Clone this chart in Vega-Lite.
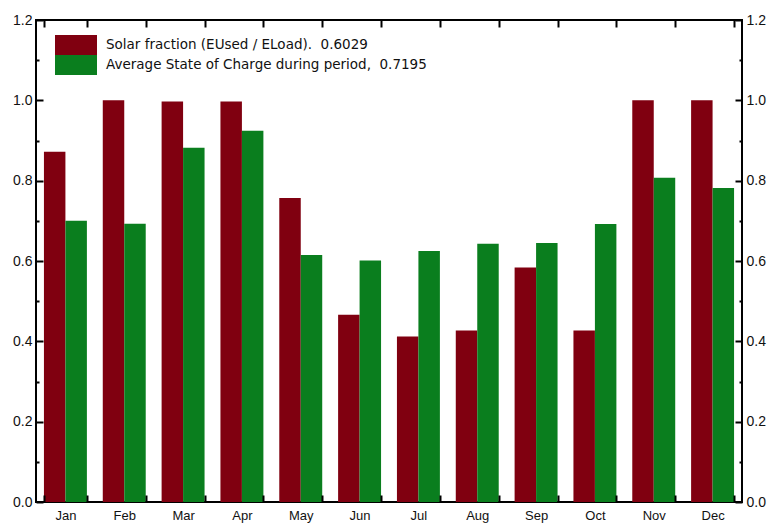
{
  "$schema": "https://vega.github.io/schema/vega-lite/v6.json",
  "width": 706,
  "height": 482,
  "autosize": {"type": "none"},
  "padding": {"left": 36, "top": 20, "right": 31, "bottom": 25},
  "background": "white",
  "config": {
    "view": {"stroke": "black", "strokeWidth": 2},
    "font": "Liberation Sans",
    "axis": {"labelColor": "#111", "grid": false, "title": null}
  },
  "data": {
    "values": [
      {"month": "Jan", "series": "Solar fraction (EUsed / ELoad).\u00a0 0.6029", "value": 0.872},
      {"month": "Feb", "series": "Solar fraction (EUsed / ELoad).\u00a0 0.6029", "value": 1.0},
      {"month": "Mar", "series": "Solar fraction (EUsed / ELoad).\u00a0 0.6029", "value": 0.997},
      {"month": "Apr", "series": "Solar fraction (EUsed / ELoad).\u00a0 0.6029", "value": 0.997},
      {"month": "May", "series": "Solar fraction (EUsed / ELoad).\u00a0 0.6029", "value": 0.757},
      {"month": "Jun", "series": "Solar fraction (EUsed / ELoad).\u00a0 0.6029", "value": 0.466},
      {"month": "Jul", "series": "Solar fraction (EUsed / ELoad).\u00a0 0.6029", "value": 0.412},
      {"month": "Aug", "series": "Solar fraction (EUsed / ELoad).\u00a0 0.6029", "value": 0.427},
      {"month": "Sep", "series": "Solar fraction (EUsed / ELoad).\u00a0 0.6029", "value": 0.584},
      {"month": "Oct", "series": "Solar fraction (EUsed / ELoad).\u00a0 0.6029", "value": 0.427},
      {"month": "Nov", "series": "Solar fraction (EUsed / ELoad).\u00a0 0.6029", "value": 1.0},
      {"month": "Dec", "series": "Solar fraction (EUsed / ELoad).\u00a0 0.6029", "value": 1.0},
      {"month": "Jan", "series": "Average State of Charge during period,\u00a0 0.7195", "value": 0.70},
      {"month": "Feb", "series": "Average State of Charge during period,\u00a0 0.7195", "value": 0.693},
      {"month": "Mar", "series": "Average State of Charge during period,\u00a0 0.7195", "value": 0.882},
      {"month": "Apr", "series": "Average State of Charge during period,\u00a0 0.7195", "value": 0.924},
      {"month": "May", "series": "Average State of Charge during period,\u00a0 0.7195", "value": 0.615},
      {"month": "Jun", "series": "Average State of Charge during period,\u00a0 0.7195", "value": 0.601},
      {"month": "Jul", "series": "Average State of Charge during period,\u00a0 0.7195", "value": 0.625},
      {"month": "Aug", "series": "Average State of Charge during period,\u00a0 0.7195", "value": 0.643},
      {"month": "Sep", "series": "Average State of Charge during period,\u00a0 0.7195", "value": 0.645},
      {"month": "Oct", "series": "Average State of Charge during period,\u00a0 0.7195", "value": 0.692},
      {"month": "Nov", "series": "Average State of Charge during period,\u00a0 0.7195", "value": 0.807},
      {"month": "Dec", "series": "Average State of Charge during period,\u00a0 0.7195", "value": 0.782}
    ]
  },
  "layer": [
    {
      "mark": {"type": "bar", "opacity": 0},
      "encoding": {
        "x": {
          "field": "month", "type": "nominal",
          "sort": ["Jan","Feb","Mar","Apr","May","Jun","Jul","Aug","Sep","Oct","Nov","Dec"],
          "scale": {"paddingInner": 0.27, "paddingOuter": 0.135},
          "axis": {"orient": "top", "labels": false, "tickBand": "extent", "domain": false, "ticks": true, "tickSize": 7, "tickColor": "black", "tickWidth": 2, "offset": -7, "zindex": 1}
        },
        "y": {
          "field": "value", "type": "quantitative",
          "scale": {"domain": [0, 1.2], "nice": false, "zero": true},
          "axis": {
            "orient": "right",
            "values": [0,0.1,0.2,0.3,0.4,0.5,0.6,0.7,0.8,0.9,1.0,1.1,1.2],
            "labelExpr": "round(datum.value*10)%2==1 ? '' : format(datum.value,'.1f')",
            "domain": false, "ticks": true, "tickSize": 7, "tickColor": "black", "tickWidth": 2, "offset": -7, "zindex": 1,
            "tickDash": {"condition": {"test": "round(datum.value*10)%2==1", "value": [0, 4, 3, 20]}, "value": [7, 0]},
            "labelPadding": 4, "labelFontSize": 14, "labelFlush": false, "labelBaseline": "middle"
          }
        }
      }
    },
    {
      "mark": {"type": "bar"},
      "encoding": {
        "x": {
          "field": "month", "type": "nominal",
          "sort": ["Jan","Feb","Mar","Apr","May","Jun","Jul","Aug","Sep","Oct","Nov","Dec"],
          "axis": {"orient": "bottom", "labelAngle": 0, "tickBand": "extent", "domain": false, "ticks": true, "tickSize": 7, "tickColor": "black", "tickWidth": 2, "offset": -7, "zindex": 1, "labelPadding": 7, "labelFontSize": 13}
        },
        "xOffset": {
          "field": "series", "type": "nominal",
          "scale": {"domain": ["Solar fraction (EUsed / ELoad).\u00a0 0.6029", "Average State of Charge during period,\u00a0 0.7195"], "paddingInner": 0, "paddingOuter": 0}
        },
        "y": {
          "field": "value", "type": "quantitative",
          "axis": {
            "orient": "left",
            "values": [0,0.1,0.2,0.3,0.4,0.5,0.6,0.7,0.8,0.9,1.0,1.1,1.2],
            "labelExpr": "round(datum.value*10)%2==1 ? '' : format(datum.value,'.1f')",
            "domain": false, "ticks": true, "tickSize": 7, "tickColor": "black", "tickWidth": 2, "offset": -7, "zindex": 1,
            "tickDash": {"condition": {"test": "round(datum.value*10)%2==1", "value": [0, 4, 3, 20]}, "value": [7, 0]},
            "labelPadding": 4, "labelFontSize": 14, "labelFlush": false, "labelBaseline": "middle"
          }
        },
        "color": {
          "field": "series", "type": "nominal",
          "scale": {"domain": ["Solar fraction (EUsed / ELoad).\u00a0 0.6029", "Average State of Charge during period,\u00a0 0.7195"], "range": ["#800010", "#0a7e1e"]},
          "legend": {
            "orient": "none", "legendX": 30, "legendY": 15,
            "title": null,
            "symbolType": "M-2.1,-1H2.1V1H-2.1Z",
            "symbolSize": 400,
            "symbolStrokeWidth": 0,
            "symbolOpacity": 1,
            "rowPadding": 0,
            "labelOffset": 20,
            "labelFont": "DejaVu Sans",
            "labelFontSize": 13.5,
            "labelColor": "#111",
            "labelLimit": 400
          }
        }
      }
    }
  ],
  "resolve": {"axis": {"x": "independent", "y": "independent"}}
}
